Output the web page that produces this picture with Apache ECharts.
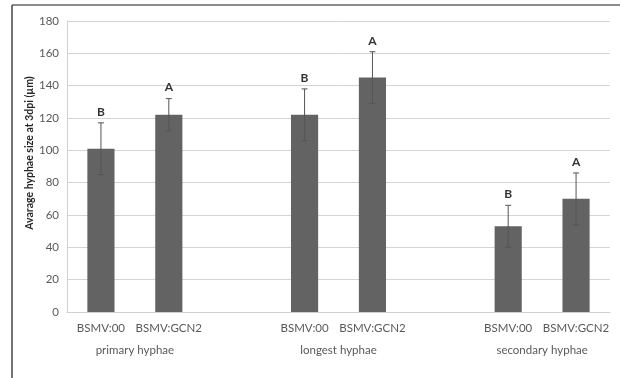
<!DOCTYPE html>
<html><head><meta charset="utf-8">
<script src="https://cdn.jsdelivr.net/npm/echarts@6/dist/echarts.min.js"></script>
<style>html,body{margin:0;padding:0;background:#fff}#c{width:620px;height:378px}</style>
</head><body><div id="c"></div>
<script>
const categories = ["BSMV:00","BSMV:GCN2","","BSMV:00","BSMV:GCN2","","BSMV:00","BSMV:GCN2"];
const values = [101, 122, null, 122, 145, null, 53, 70];
const errors = [16, 10, null, 16, 16, null, 13, 16];
const letters = ["B","A","","B","A","","B","A"];
const groupNames = ["primary hyphae","longest hyphae","secondary hyphae"];
const groupPositions = [1, 4, 7];
const yTicks = [0,20,40,60,80,100,120,140,160,180];
const yTitle = 'Avarage hyphae size at 3dpi (µm)';

const font = "Lato, 'Open Sans', sans-serif";
const chart = echarts.init(document.getElementById('c'), null, {renderer:'canvas'});
const errData = values.map((v,i)=> v==null?null:[i, v-errors[i], v+errors[i], letters[i]]).filter(d=>d);

chart.setOption({
  animation:false,
  grid:{left:67, right:10, top:21, bottom:66},
  xAxis:[{
    type:'category', data:categories,
    axisLine:{lineStyle:{color:'#d0d0d0'}}, axisTick:{show:false},
    axisLabel:{color:'#595959', fontSize:11.5, fontFamily:font, margin:10, interval:0}
  },{
    type:'value', min:0, max:categories.length, interval:1, position:'bottom', offset:24,
    axisLine:{show:false}, axisTick:{show:false}, splitLine:{show:false},
    axisLabel:{color:'#595959', fontSize:11.5, fontFamily:font, margin:8, showMinLabel:true, showMaxLabel:true,
      formatter:v=>{const k=groupPositions.indexOf(v); return k>=0?groupNames[k]:'';}}
  }],
  yAxis:{
    type:'value', min:yTicks[0], max:yTicks[yTicks.length-1], interval:20,
    axisLine:{show:true, lineStyle:{color:'#d0d0d0'}}, axisTick:{show:false},
    axisLabel:{color:'#595959', fontSize:11.5, fontFamily:font, margin:8},
    splitLine:{lineStyle:{color:'#d4d4d4', width:1}}
  },
  series:[{
    type:'bar', data:values, barWidth:'40%', xAxisIndex:0,
    itemStyle:{color:'#636363'}
  },{
    type:'custom', xAxisIndex:0, data:errData, z:10,
    renderItem:(params, api)=>{
      const x = api.value(0);
      const lo = api.coord([x, api.value(1)]);
      const hi = api.coord([x, api.value(2)]);
      const w = 3;
      const st = {stroke:'#555', lineWidth:1};
      return {type:'group', children:[
        {type:'line', shape:{x1:lo[0],y1:lo[1],x2:hi[0],y2:hi[1]}, style:st},
        {type:'line', shape:{x1:lo[0]-w,y1:lo[1],x2:lo[0]+w,y2:lo[1]}, style:st},
        {type:'line', shape:{x1:hi[0]-w,y1:hi[1],x2:hi[0]+w,y2:hi[1]}, style:st},
        {type:'text', style:{x:hi[0], y:hi[1]-5, text:api.value(3), textAlign:'center', textVerticalAlign:'bottom',
          font:'bold 12px '+font, fill:'#333'}}
      ]};
    }
  }],
  graphic:[
    {type:'line', shape:{x1:12,y1:5,x2:620,y2:5}, style:{stroke:'#666', lineWidth:1.5}},
    {type:'line', shape:{x1:12,y1:5,x2:12,y2:378}, style:{stroke:'#444', lineWidth:1.5}},
    {type:'text', x:30, y:153, rotation:Math.PI/2,
      style:{text:yTitle, textAlign:'center', textVerticalAlign:'middle', font:'bold 10.5px '+font, fill:'#262626'}}
  ]
});
</script></body></html>
